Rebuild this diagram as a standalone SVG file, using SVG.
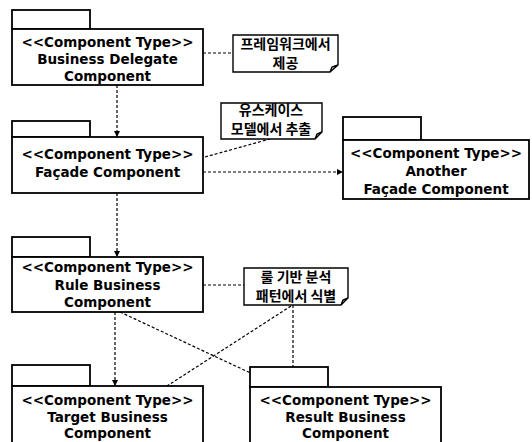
<svg xmlns="http://www.w3.org/2000/svg" width="532" height="442" viewBox="0 0 532 442">
<style>
.box{fill:#fff;stroke:#000;stroke-width:1.8}
.note{fill:#fff;stroke:#000;stroke-width:1.4}
.t{font-family:"DejaVu Sans",Verdana,sans-serif;font-weight:bold;font-size:13.5px;text-anchor:middle;fill:#000}
.k{font-family:"Noto Sans CJK KR","Noto Sans",sans-serif;font-weight:bold;font-size:14px;text-anchor:middle;fill:#000}
.c{fill:none;stroke:#000;stroke-width:1.2;stroke-dasharray:3 2}
</style>
<defs>
<marker id="ah" viewBox="0 0 10 10" refX="10" refY="5" markerWidth="6" markerHeight="6" markerUnits="userSpaceOnUse" orient="auto">
<path d="M0,0 L10,5 L0,10 Z" fill="#000"/>
</marker>
</defs>
<rect width="532" height="442" fill="#fff"/>
<g id="connectors">
<line class="c" x1="117" y1="85" x2="117" y2="137" marker-end="url(#ah)"/>
<line class="c" x1="117" y1="193" x2="117" y2="257" marker-end="url(#ah)"/>
<line class="c" x1="115" y1="312" x2="115" y2="386" marker-end="url(#ah)"/>
<line class="c" x1="203" y1="172" x2="343" y2="172" marker-end="url(#ah)"/>
<line class="c" x1="120" y1="312" x2="274" y2="384" marker-end="url(#ah)"/>
<line class="c" x1="203" y1="53" x2="233" y2="53"/>
<line class="c" x1="205" y1="157" x2="270" y2="139"/>
<line class="c" x1="203" y1="285" x2="244" y2="285"/>
<line class="c" x1="293" y1="305" x2="293" y2="384"/>
<line class="c" x1="291" y1="306" x2="167" y2="386"/>
</g>
<g id="n1">
<rect class="box" x="12" y="10" width="78" height="19"/>
<rect class="box" x="12" y="29" width="191" height="56"/>
<text class="t" x="107.5" y="47">&lt;&lt;Component Type&gt;&gt;</text>
<text class="t" x="107.5" y="64">Business Delegate</text>
<text class="t" x="107.5" y="81">Component</text>
</g>
<g id="n2">
<rect class="box" x="12" y="121" width="78" height="16"/>
<rect class="box" x="12" y="137" width="191" height="56"/>
<text class="t" x="107.5" y="159">&lt;&lt;Component Type&gt;&gt;</text>
<text class="t" x="107.5" y="177">Façade Component</text>
</g>
<g id="n3">
<rect class="box" x="12" y="237" width="78" height="20"/>
<rect class="box" x="12" y="257" width="191" height="55"/>
<text class="t" x="107.5" y="272">&lt;&lt;Component Type&gt;&gt;</text>
<text class="t" x="107.5" y="290">Rule Business</text>
<text class="t" x="107.5" y="307">Component</text>
</g>
<g id="n4">
<rect class="box" x="12" y="365" width="78" height="21"/>
<rect class="box" x="12" y="386" width="191" height="60"/>
<text class="t" x="107.5" y="405">&lt;&lt;Component Type&gt;&gt;</text>
<text class="t" x="107.5" y="422">Target Business</text>
<text class="t" x="107.5" y="438">Component</text>
</g>
<g id="n5">
<rect class="box" x="250" y="367" width="78" height="20"/>
<rect class="box" x="250" y="387" width="191" height="60"/>
<text class="t" x="345.5" y="405">&lt;&lt;Component Type&gt;&gt;</text>
<text class="t" x="345.5" y="422">Result Business</text>
<text class="t" x="345.5" y="438">Component</text>
</g>
<g id="n6">
<rect class="box" x="343" y="117" width="78" height="23"/>
<rect class="box" x="343" y="140" width="186" height="59"/>
<text class="t" x="436" y="158">&lt;&lt;Component Type&gt;&gt;</text>
<text class="t" x="436" y="176">Another</text>
<text class="t" x="436" y="194">Façade Component</text>
</g>
<g id="note1">
<path class="note" d="M233,35 H338 V65 L330,72 H233 Z M330,72 L332,67 L338,65"/>
<text class="k" x="285.5" y="49">프레임워크에서</text>
<text class="k" x="285.5" y="68">제공</text>
</g>
<g id="note2">
<path class="note" d="M221,103 H322 V132 L315,139 H221 Z M315,139 L317,134 L322,132"/>
<text class="k" x="271" y="115">유스케이스</text>
<text class="k" x="271" y="134">모델에서 추출</text>
</g>
<g id="note3">
<path class="note" d="M244,268 H348 V298 L341,305 H244 Z M341,305 L343,300 L348,298"/>
<text class="k" x="296" y="282">룰 기반 분석</text>
<text class="k" x="296" y="301">패턴에서 식별</text>
</g>
</svg>
